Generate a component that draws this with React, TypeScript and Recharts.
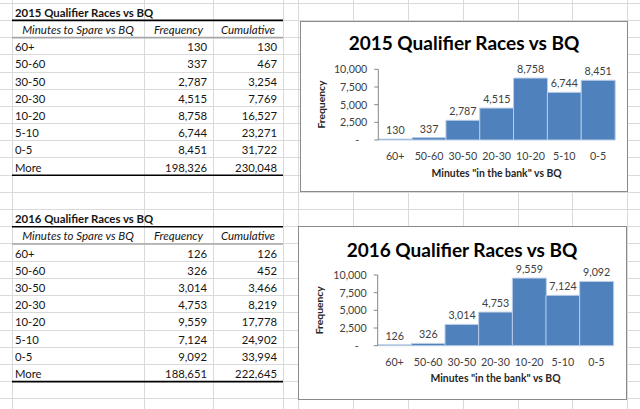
import React from 'react';
import { BarChart, Bar, XAxis, YAxis, LabelList, Label } from 'recharts';

// ---------------- data ----------------
const chartCategories = ['60+', '50-60', '30-50', '20-30', '10-20', '5-10', '0-5'];
const tableCategories = ['60+', '50-60', '30-50', '20-30', '10-20', '5-10', '0-5', 'More'];
const freq2015 = [130, 337, 2787, 4515, 8758, 6744, 8451, 198326];
const cum2015 = [130, 467, 3254, 7769, 16527, 23271, 31722, 230048];
const freq2016 = [126, 326, 3014, 4753, 9559, 7124, 9092, 188651];
const cum2016 = [126, 452, 3466, 8219, 17778, 24902, 33994, 222645];
const yTicks = [0, 2500, 5000, 7500, 10000];
const tableHeaders = ['Minutes to Spare vs BQ', 'Frequency', 'Cumulative'];
const title2015 = '2015 Qualifier Races vs BQ';
const title2016 = '2016 Qualifier Races vs BQ';
const xAxisTitle = 'Minutes "in the bank" vs BQ';
const yAxisTitle = 'Frequency';

// ---------------- layout ----------------
const FONT = 'Lato, sans-serif';
const GRID_COLS = [12, 144, 213, 283, 298, 353, 408, 463, 518, 572, 627];
const ROW_TOP = 3.2;
const ROW_H = 17.2;
const ROW_COUNT = 24;
const rowY = (k: number) => ROW_TOP + ROW_H * k;
const px = (v: number) => Math.floor(v) + 0.5;
const fmt = (v: number) => v.toLocaleString('en-US');
const AXIS_COLOR = '#868686';
const TEXT_COLOR = '#404040';
const BAR_FILL = '#4F81BD';
const BAR_STROKE = '#BCCEE6';

function Table({ title, startRow, freq, cum }: { title: string; startRow: number; freq: number[]; cum: number[] }) {
  const base = (k: number) => rowY(startRow + k) + 13.5;
  const left = 12;
  const right = 283;
  return (
    <g fontFamily={FONT} fontSize={11.3} fill="#151515">
      <text x={15} y={base(0)} fontWeight="bold" fontSize={11.4}>{title}</text>
      <text x={78} y={base(1)} textAnchor="middle" fontStyle="italic" fontSize={11.5}>{tableHeaders[0]}</text>
      <text x={178.5} y={base(1)} textAnchor="middle" fontStyle="italic" fontSize={11.5}>{tableHeaders[1]}</text>
      <text x={248} y={base(1)} textAnchor="middle" fontStyle="italic" fontSize={11.5}>{tableHeaders[2]}</text>
      {tableCategories.map((c, i) => (
        <g key={c}>
          <text x={15} y={base(2 + i)}>{c}</text>
          <text x={207} y={base(2 + i)} textAnchor="end">{fmt(freq[i])}</text>
          <text x={277} y={base(2 + i)} textAnchor="end">{fmt(cum[i])}</text>
        </g>
      ))}
      <line x1={left} x2={right} y1={rowY(startRow + 1)} y2={rowY(startRow + 1)} stroke="#000" strokeWidth={1.6} />
      <line x1={left} x2={right} y1={rowY(startRow + 2)} y2={rowY(startRow + 2)} stroke="#A6A6A6" strokeWidth={1.6} />
      <line x1={left} x2={right} y1={rowY(startRow + 10)} y2={rowY(startRow + 10)} stroke="#000" strokeWidth={1.6} />
    </g>
  );
}

function Sheet() {
  const rows = Array.from({ length: ROW_COUNT }, (_, k) => rowY(k));
  return (
    <svg width={640} height={409} style={{ position: 'absolute', left: 0, top: 0 }}>
      <rect x={0} y={0} width={640} height={409} fill="#fff" />
      {rows.map((y, k) => (
        <line key={'r' + k} x1={0} x2={640} y1={px(y)} y2={px(y)} stroke="#DADADA" strokeWidth={1} />
      ))}
      {GRID_COLS.map((x) => (
        <line key={'c' + x} x1={x + 0.5} x2={x + 0.5} y1={0} y2={409} stroke="#DADADA" strokeWidth={1} />
      ))}
      <Table title={title2015} startRow={0} freq={freq2015} cum={cum2015} />
      <Table title={title2016} startRow={12} freq={freq2016} cum={cum2016} />
    </svg>
  );
}

const YTick = (props: any) => {
  const { x, y, payload } = props;
  const isZero = payload.value === 0;
  return (
    <text x={x - (isZero ? 8 : 0)} y={y} dy="0.36em" textAnchor="end" fontFamily={FONT} fontSize={10.7} fill={TEXT_COLOR}>
      {isZero ? '-' : fmt(payload.value)}
    </text>
  );
};

const XTick = (props: any) => {
  const { x, y, payload } = props;
  return (
    <text x={x} y={y + 16} dy="0.36em" textAnchor="middle" fontFamily={FONT} fontSize={10.7} fill={TEXT_COLOR}>
      {payload.value}
    </text>
  );
};

type Box = { left: number; top: number; width: number; height: number };
type Plot = { left: number; right: number; top: number; bottom: number };

function HistChart({ freq, box, plot }: { freq: number[]; box: Box; plot: Plot }) {
  const data = chartCategories.map((c, i) => ({ cat: c, freq: freq[i], pos: i + 0.5 }));
  const boundaries = chartCategories.map((_, i) => i).concat([chartCategories.length]);
  const xHeight = box.height - plot.bottom;
  return (
    <div
      style={{
        position: 'absolute',
        left: box.left,
        top: box.top,
        width: box.width,
        height: box.height,
        background: '#fff',
        border: '1px solid #8A8A8A',
        boxSizing: 'border-box',
      }}
    >
      <div style={{ position: 'absolute', left: -1, top: -1 }}>
        <BarChart
          width={box.width}
          height={box.height}
          data={data}
          margin={{ top: plot.top, right: box.width - plot.right, left: 0, bottom: 0 }}
          barCategoryGap={0}
          barGap={0}
        >
          <XAxis
            xAxisId="b"
            type="number"
            dataKey="pos"
            domain={[0, chartCategories.length]}
            allowDataOverflow
            ticks={boundaries}
            interval={0}
            height={0}
            tick={false}
            tickSize={4}
            tickLine={{ stroke: AXIS_COLOR }}
            axisLine={{ stroke: AXIS_COLOR }}
          />
          <XAxis
            xAxisId="c"
            dataKey="cat"
            height={xHeight}
            interval={0}
            tickLine={false}
            axisLine={false}
            tickSize={0}
            tickMargin={0}
            tick={<XTick />}
          >
            <Label
              value={xAxisTitle}
              position="insideBottom"
              offset={xHeight - 36.6}
              fontFamily={FONT}
              fontSize={10.4}
              fontWeight="bold"
              fill="#262626"
            />
          </XAxis>
          <YAxis
            width={plot.left}
            domain={[0, 10000]}
            ticks={yTicks}
            interval={0}
            tickSize={4}
            tickMargin={7}
            tickLine={{ stroke: AXIS_COLOR }}
            axisLine={{ stroke: AXIS_COLOR }}
            tick={<YTick />}
          >
            <Label
              value={yAxisTitle}
              position="insideLeft"
              angle={-90}
              offset={21}
              fontFamily={FONT}
              fontSize={10.3}
              fontWeight="bold"
              fill="#262626"
              style={{ textAnchor: 'middle' }}
            />
          </YAxis>
          <Bar xAxisId="c" dataKey="freq" fill={BAR_FILL} stroke={BAR_STROKE} strokeWidth={1} isAnimationActive={false}>
            <LabelList
              dataKey="freq"
              position="top"
              offset={5}
              formatter={(v: any) => fmt(Number(v))}
              fontFamily={FONT}
              fontSize={10.7}
              fill={TEXT_COLOR}
            />
          </Bar>
        </BarChart>
      </div>
    </div>
  );
}

export default function App() {
  const box1: Box = { left: 300, top: 21, width: 328, height: 171 };
  const plot1: Plot = { left: 78.3, right: 315, top: 48.3, bottom: 119 };
  const box2: Box = { left: 298, top: 226, width: 329, height: 174 };
  const plot2: Plot = { left: 79.7, right: 315.3, top: 49, bottom: 119.7 };
  return (
    <div style={{ position: 'fixed', left: 0, top: 0, width: 640, height: 409, overflow: 'hidden', background: '#fff' }}>
      <Sheet />
      <HistChart freq={freq2015} box={box1} plot={plot1} />
      <HistChart freq={freq2016} box={box2} plot={plot2} />
      <svg width={640} height={409} style={{ position: 'absolute', left: 0, top: 0, pointerEvents: 'none' }}>
        <text x={464} y={50} textAnchor="middle" fontFamily={FONT} fontWeight="bold" fontSize={19} fill="#000">
          {title2015}
        </text>
        <text x={462} y={257} textAnchor="middle" fontFamily={FONT} fontWeight="bold" fontSize={19} fill="#000">
          {title2016}
        </text>
      </svg>
    </div>
  );
}
